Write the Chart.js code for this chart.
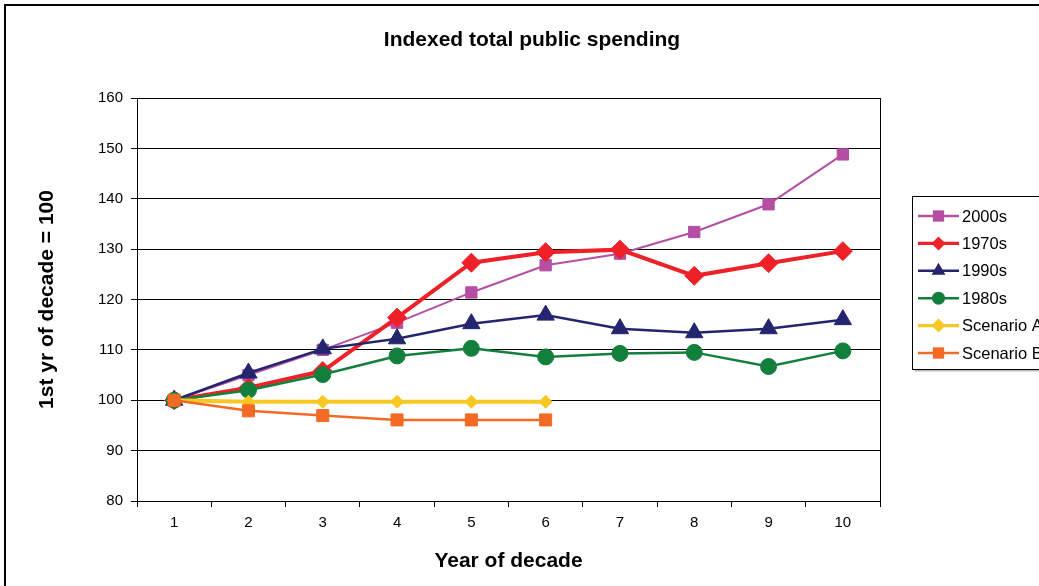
<!DOCTYPE html>
<html>
<head>
<meta charset="utf-8">
<script src="https://cdn.jsdelivr.net/npm/chart.js@4.4.1/dist/chart.umd.min.js"></script>
<style>
  html, body { margin: 0; padding: 0; background: #fff; overflow: hidden; }
  #wrap { position: relative; width: 1039px; height: 586px; }
  #frame { position: absolute; left: 4px; top: 4px; width: 1100px; height: 700px;
           border: 2px solid #000; box-sizing: border-box; pointer-events: none; }
  canvas { position: absolute; left: 0; top: 0; }
</style>
</head>
<body>
<div id="wrap">
  <canvas id="c" width="1039" height="586"></canvas>
  <div id="frame"></div>
</div>
<script>
const years = ['1', '2', '3', '4', '5', '6', '7', '8', '9', '10'];
const s2000s = [100, 105.0, 110.0, 115.4, 121.4, 126.8, 129.1, 133.4, 138.9, 148.8];
const s1970s = [100, 102.5, 105.8, 116.4, 127.3, 129.4, 129.9, 124.7, 127.2, 129.6];
const s1990s = [100, 105.4, 110.2, 112.2, 115.2, 116.9, 114.2, 113.4, 114.2, 116.0];
const s1980s = [100, 102.0, 105.1, 108.8, 110.3, 108.6, 109.3, 109.5, 106.7, 109.8];
const scenarioA = [100, 99.7, 99.7, 99.7, 99.7, 99.7];
const scenarioB = [100, 97.9, 96.95, 96.1, 96.1, 96.1];
const seriesNames = ['2000s', '1970s', '1990s', '1980s', 'Scenario A', 'Scenario B'];
const yTicks = { min: 80, max: 160, step: 10 };
const chartTitle = 'Indexed total public spending';
const xTitle = 'Year of decade';
const yTitle = '1st yr of decade = 100';

const FONT = '"Liberation Sans", Arial, sans-serif';

function mk(label, data, color, width, style, radius, order) {
  return {
    label, data, borderColor: color, backgroundColor: color,
    borderWidth: width, pointStyle: style, pointRadius: radius,
    pointBorderWidth: 1, pointBorderColor: color, pointBackgroundColor: color,
    tension: 0, fill: false, order, yAxisID: 'y'
  };
}

const datasets = [
  mk(seriesNames[0], s2000s, '#B44FA3', 2, 'rect', 8, 5),
  mk(seriesNames[1], s1970s, '#EE2128', 4, 'rectRot', 9.5, 4),
  mk(seriesNames[2], s1990s, '#25246F', 2.5, 'triangle', 10, 3),
  mk(seriesNames[3], s1980s, '#137F3C', 2.5, 'circle', 8, 2),
  mk(seriesNames[4], scenarioA, '#F7C823', 4, 'rectRot', 6.5, 1),
  mk(seriesNames[5], scenarioB, '#F26A24', 2.5, 'rect', 8.5, 0)
];

function drawMarker(ctx, style, x, y, r, color) {
  ctx.save();
  ctx.fillStyle = color;
  ctx.beginPath();
  if (style === 'rect') {
    const s = r * Math.SQRT1_2;
    ctx.rect(x - s, y - s, 2 * s, 2 * s);
  } else if (style === 'rectRot') {
    ctx.moveTo(x, y - r); ctx.lineTo(x + r, y); ctx.lineTo(x, y + r); ctx.lineTo(x - r, y);
    ctx.closePath();
  } else if (style === 'triangle') {
    for (let i = 0; i < 3; i++) {
      const a = i * 2 * Math.PI / 3;
      const px = x + Math.sin(a) * r, py = y - Math.cos(a) * r;
      if (i === 0) ctx.moveTo(px, py); else ctx.lineTo(px, py);
    }
    ctx.closePath();
  } else {
    ctx.arc(x, y, r, 0, Math.PI * 2);
  }
  ctx.fill();
  ctx.restore();
}

const framePlugin = {
  id: 'framePlugin',
  beforeDatasetsDraw(chart) {
    const { ctx, chartArea: a } = chart;
    ctx.save();
    ctx.strokeStyle = '#000';
    ctx.lineWidth = 1;
    ctx.strokeRect(Math.round(a.left) + 0.5, Math.round(a.top) + 0.5,
                   Math.round(a.right - a.left), Math.round(a.bottom - a.top));
    ctx.restore();
  }
};

const legendBox = {
  id: 'legendBox',
  afterDraw(chart) {
    const ctx = chart.ctx;
    const bx = 912, by = 196, bw = 200, bh = 173;
    ctx.save();
    ctx.fillStyle = '#fff';
    ctx.fillRect(bx, by, bw, bh);
    ctx.strokeStyle = '#bbb';
    ctx.lineWidth = 2;
    ctx.beginPath(); ctx.moveTo(bx + 3, by + bh + 1.5); ctx.lineTo(bx + bw, by + bh + 1.5); ctx.stroke();
    ctx.strokeStyle = '#000';
    ctx.lineWidth = 1;
    ctx.strokeRect(bx + 0.5, by + 0.5, bw, bh);
    ctx.font = '16.5px ' + FONT;
    ctx.textBaseline = 'middle';
    ctx.textAlign = 'left';
    chart.data.datasets.forEach((ds, i) => {
      const y = 216 + i * 27.4;
      ctx.strokeStyle = ds.borderColor;
      ctx.lineWidth = Math.max(2.5, ds.borderWidth * 0.8);
      ctx.beginPath(); ctx.moveTo(918, y); ctx.lineTo(959, y); ctx.stroke();
      const r = ds.pointStyle === 'triangle' ? 8 : (ds.pointStyle === 'circle' ? 6.5 : (ds.pointStyle === 'rect' ? 8 : 7));
      drawMarker(ctx, ds.pointStyle, 938.5, y, r, ds.borderColor);
      ctx.fillStyle = '#000';
      ctx.fillText(ds.label, 962, y + 1);
    });
    ctx.restore();
  }
};

new Chart(document.getElementById('c'), {
  type: 'line',
  data: { labels: years, datasets },
  options: {
    responsive: false,
    animation: false,
    devicePixelRatio: 1,
    layout: { padding: { left: 25, right: 0, top: 0, bottom: 0 } },
    plugins: {
      legend: { display: false },
      tooltip: { enabled: false },
      title: {
        display: true, text: chartTitle, color: '#000',
        font: { family: FONT, size: 21, weight: 'bold', lineHeight: 1.2 },
        padding: { top: 27.4, bottom: 45.4 }
      }
    },
    scales: {
      x: {
        type: 'category',
        offset: true,
        afterFit(scale) { scale.height = 85; },
        grid: { offset: true, drawOnChartArea: false, drawTicks: true, tickLength: 6, color: '#000', lineWidth: 1 },
        border: { display: true, color: '#000', width: 1 },
        ticks: { color: '#000', font: { family: FONT, size: 15 }, padding: 7, maxRotation: 0 },
        title: { display: true, text: xTitle, color: '#000',
                 font: { family: FONT, size: 21, weight: 'bold', lineHeight: 1.2 },
                 padding: { top: 0, bottom: 12.4 } }
      },
      y: {
        position: 'left',
        min: yTicks.min, max: yTicks.max,
        afterFit(scale) { scale.width = 112; },
        grid: { color: '#000', lineWidth: 1, drawTicks: true, tickLength: 6 },
        border: { display: true, color: '#000', width: 1 },
        ticks: { stepSize: yTicks.step, color: '#000', font: { family: FONT, size: 15 }, padding: 8 },
        title: { display: true, text: yTitle, color: '#000',
                 font: { family: FONT, size: 21, weight: 'bold', lineHeight: 1.2 },
                 padding: { top: 9.4, bottom: 0 } }
      },
      legendSpace: {
        type: 'linear',
        position: 'right',
        display: true,
        afterFit(scale) { scale.width = 159; },
        grid: { display: false, drawOnChartArea: false },
        border: { display: false },
        ticks: { display: false }
      }
    }
  },
  plugins: [framePlugin, legendBox]
});
</script>
</body>
</html>
